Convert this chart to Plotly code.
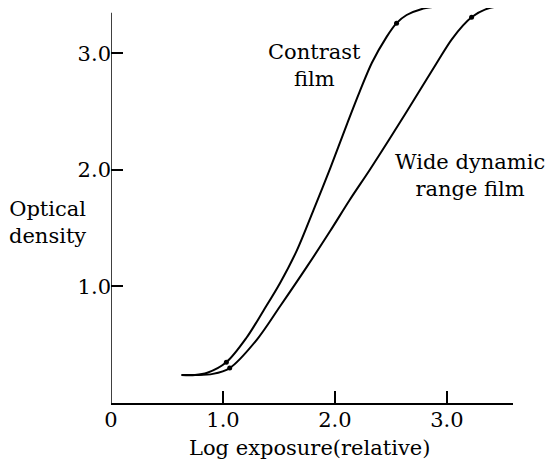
import plotly.graph_objects as go

# Characteristic curves
contrast_x = [0.63, 0.75, 0.86, 1.03, 1.21, 1.36, 1.51, 1.66, 1.81, 1.96, 2.11, 2.22, 2.33, 2.46, 2.55, 2.64, 2.77, 2.96]
contrast_y = [0.24, 0.24, 0.26, 0.35, 0.56, 0.79, 1.03, 1.31, 1.66, 2.02, 2.40, 2.67, 2.92, 3.14, 3.26, 3.33, 3.38, 3.41]

wide_x = [0.63, 0.75, 0.91, 1.06, 1.30, 1.51, 1.75, 1.96, 2.13, 2.31, 2.49, 2.64, 2.91, 3.05, 3.22, 3.38, 3.59]
wide_y = [0.24, 0.24, 0.25, 0.30, 0.54, 0.83, 1.17, 1.48, 1.74, 2.00, 2.27, 2.50, 2.92, 3.13, 3.31, 3.39, 3.41]

# Marked points (limits of the useful range)
contrast_dot_x = [1.03, 2.55]
contrast_dot_y = [0.35, 3.26]
wide_dot_x = [1.06, 3.22]
wide_dot_y = [0.30, 3.31]

x_tickvals = [0, 1, 2, 3]
x_ticktext = ["0", "1.0", "2.0", "3.0"]
y_tickvals = [1, 2, 3]
y_ticktext = ["1.0", "2.0", "3.0"]

# Text labels: (text, paper x, paper y)
labels = [
    ("Contrast<br>film", 0.505, 0.854),
    ("Wide dynamic<br>range film", 0.893, 0.576),
    ("Optical<br>density", -0.157, 0.457),
    ("Log exposure(relative)", 0.495, -0.113),
]

FONT = "DejaVu Serif"
FS = 21
INK = "black"

fig = go.Figure()
for xs, ys in [(contrast_x, contrast_y), (wide_x, wide_y)]:
    fig.add_trace(go.Scatter(x=xs, y=ys, mode="lines",
                             line=dict(color=INK, width=2, shape="spline", smoothing=0.9),
                             showlegend=False, hoverinfo="skip"))
for xs, ys in [(contrast_dot_x, contrast_dot_y), (wide_dot_x, wide_dot_y)]:
    fig.add_trace(go.Scatter(x=xs, y=ys, mode="markers",
                             marker=dict(color=INK, size=5),
                             showlegend=False, hoverinfo="skip", cliponaxis=False))

# y axis line (shorter than the plotting area)
fig.add_shape(type="line", x0=0, x1=0, y0=0, y1=3.35, xref="x", yref="y",
              line=dict(color=INK, width=1.5))

for text, px, py in labels:
    fig.add_annotation(text=text, x=px, y=py, xref="paper", yref="paper",
                       showarrow=False, xanchor="center", yanchor="middle",
                       align="center",
                       font=dict(family=FONT, size=FS, color=INK))

fig.update_xaxes(range=[0, 3.59], showline=True, linecolor=INK, linewidth=1.5,
                 ticks="inside", ticklen=12, tickwidth=1.5, tickcolor=INK,
                 tickvals=x_tickvals, ticktext=x_ticktext,
                 showgrid=False, zeroline=False, ticklabelstandoff=-3,
                 tickfont=dict(family=FONT, size=FS, color=INK))
fig.update_yaxes(range=[0, 3.39], showline=False,
                 ticks="inside", ticklen=12, tickwidth=1.5, tickcolor=INK,
                 tickvals=y_tickvals, ticktext=y_ticktext,
                 showgrid=False, zeroline=False, ticklabelstandoff=-1,
                 tickfont=dict(family=FONT, size=FS, color=INK))

# the page adds an 8px body margin, so the figure is 8px smaller than the window
fig.update_layout(width=547, height=455,
                  margin=dict(l=103, r=42, t=0, b=60),
                  paper_bgcolor="white", plot_bgcolor="white",
                  font=dict(family=FONT, size=FS, color=INK))

fig.write_html("out.html")
